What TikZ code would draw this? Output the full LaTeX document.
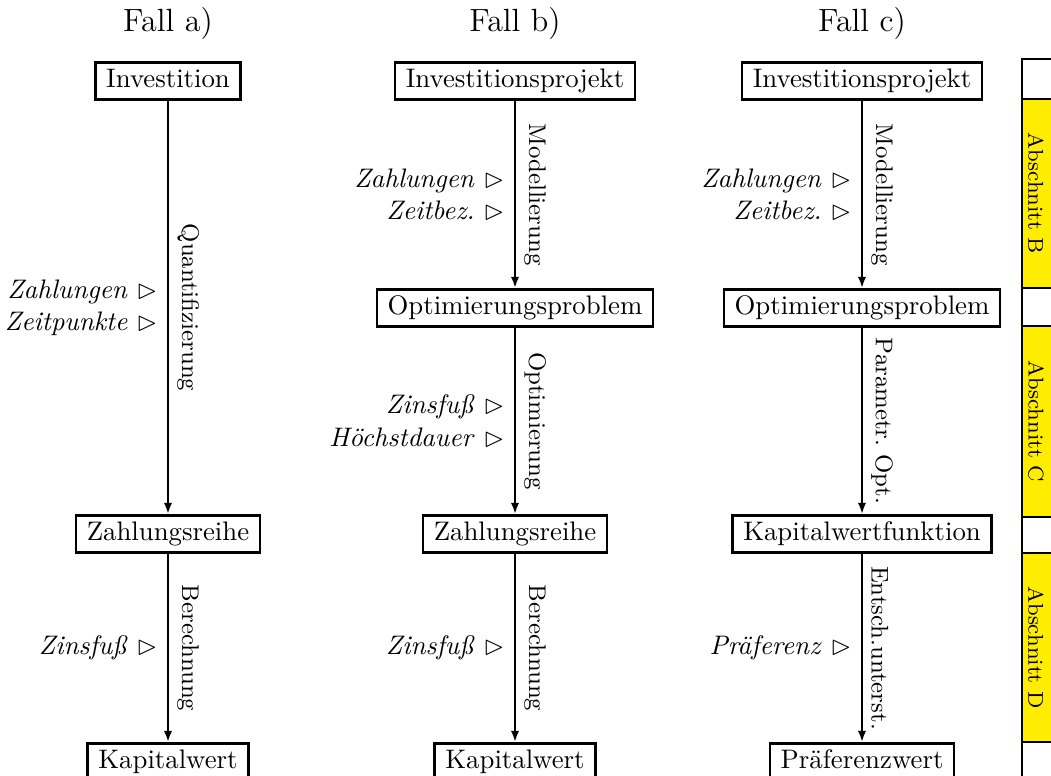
\documentclass[tikz,border=0pt]{standalone}
\usepackage{fontspec}
\usepackage{amsmath, amssymb}
\usetikzlibrary{arrows.meta, positioning}
\definecolor{abschnittgelb}{RGB}{255,237,0}
\newcommand{\eingang}[1]{\textit{#1}~$\rhd$}

\begin{document}
\begin{tikzpicture}[
  x=0.013123cm, y=-0.013123cm,
  stufe/.style={draw, line width=1pt, inner xsep=4pt, inner ysep=2.5pt, text height=6.9pt, text depth=1.9pt},
  pfeil/.style={-{Latex[length=1.5mm, width=1.1mm]}, line width=0.9pt},
  verfahren/.style={midway, anchor=south, rotate=-90, inner sep=3pt, font=\small},
  eingabe/.style={midway, anchor=east, align=right, inner sep=3.5pt},
  fall/.style={font=\large},
  abschnitt/.style={draw, line width=1pt, fill=abschnittgelb}
]
  \useasboundingbox (0,0) rectangle (1051,775);

  % Fall a)
  \node[fall] (fa) at (168,23) {Fall a)};
  \node[stufe] (a1) at (168,81) {Investition};
  \node[stufe] (a3) at (168,534) {Zahlungsreihe};
  \node[stufe] (a4) at (168,762) {Kapitalwert};
  \draw[pfeil] (a1) -- node[verfahren] {Quantifizierung}
    node[eingabe] {\eingang{Zahlungen}\\\eingang{Zeitpunkte}} (a3);
  \draw[pfeil] (a3) -- node[verfahren] {Berechnung}
    node[eingabe] {\eingang{Zinsfuß}} (a4);

  % Fall b)
  \node[fall] (fb) at (515,23) {Fall b)};
  \node[stufe] (b1) at (515,81) {Investitionsprojekt};
  \node[stufe] (b2) at (515,308) {Optimierungsproblem};
  \node[stufe] (b3) at (515,534) {Zahlungsreihe};
  \node[stufe] (b4) at (515,762) {Kapitalwert};
  \draw[pfeil] (b1) -- node[verfahren] {Modellierung}
    node[eingabe] {\eingang{Zahlungen}\\\eingang{Zeitbez.}} (b2);
  \draw[pfeil] (b2) -- node[verfahren] {Optimierung}
    node[eingabe] {\eingang{Zinsfuß}\\\eingang{Höchstdauer}} (b3);
  \draw[pfeil] (b3) -- node[verfahren] {Berechnung}
    node[eingabe] {\eingang{Zinsfuß}} (b4);

  % Fall c)
  \node[fall] (fc) at (862,23) {Fall c)};
  \node[stufe] (c1) at (862,81) {Investitionsprojekt};
  \node[stufe] (c2) at (862,308) {Optimierungsproblem};
  \node[stufe] (c3) at (862,534) {Kapitalwertfunktion};
  \node[stufe] (c4) at (862,762) {Präferenzwert};
  \draw[pfeil] (c1) -- node[verfahren] {Modellierung}
    node[eingabe] {\eingang{Zahlungen}\\\eingang{Zeitbez.}} (c2);
  \draw[pfeil] (c2) -- node[verfahren] {Parametr.\ Opt.} (c3);
  \draw[pfeil] (c3) -- node[verfahren] {Entsch.unterst.}
    node[eingabe] {\eingang{Präferenz}} (c4);

  % Abschnitte
  \draw[line width=1pt] (1060,59) -- (1022,59) -- (1022,780);
  \foreach \buchst/\oben/\unten in {B/99/288, C/326/517, D/553/742} {
    \draw[abschnitt] (1022,\oben) rectangle (1060,\unten);
    \node[rotate=-90, font=\footnotesize] (s\buchst) at (1036,{(\oben+\unten)/2}) {Abschnitt \buchst};
  }
\end{tikzpicture}
\end{document}
